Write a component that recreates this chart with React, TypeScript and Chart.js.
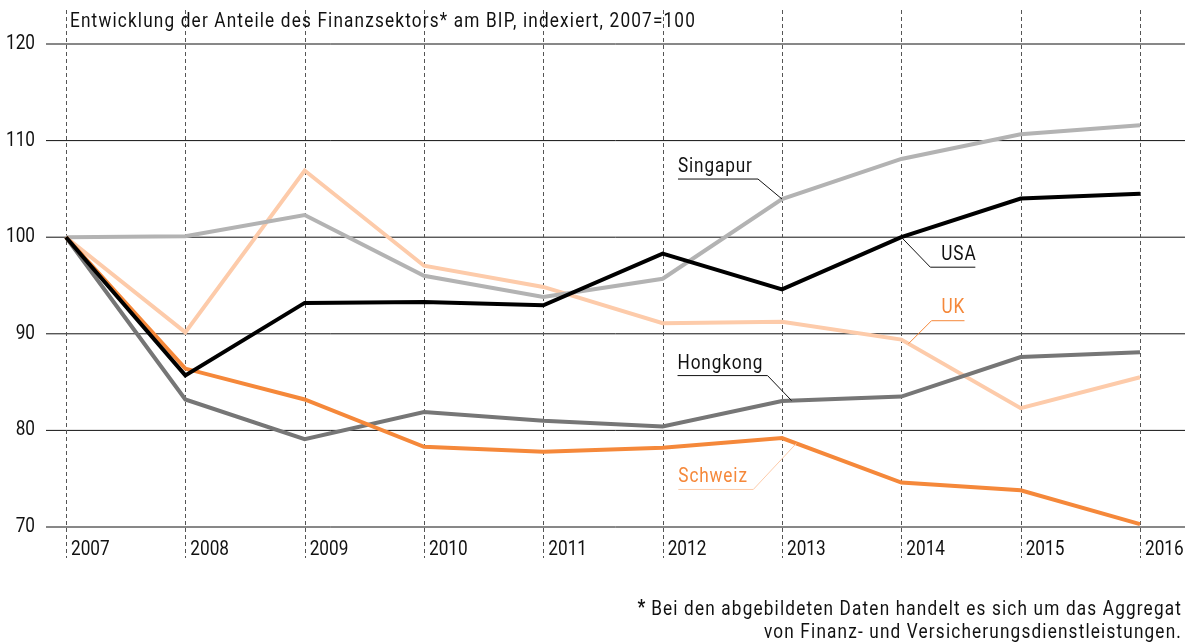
import React, { useEffect, useRef } from "react";
import { Chart, registerables } from "chart.js";

Chart.register(...registerables);

const years = [2007, 2008, 2009, 2010, 2011, 2012, 2013, 2014, 2015, 2016];
const singapur = [100, 100.1, 102.3, 96.0, 93.8, 95.7, 103.95, 108.1, 110.65, 111.6];
const usa = [100, 85.7, 93.2, 93.3, 92.95, 98.3, 94.6, 100, 104.0, 104.5];
const uk = [100, 90.15, 106.9, 97.05, 94.85, 91.1, 91.25, 89.4, 82.3, 85.5];
const hongkong = [100, 83.2, 79.1, 81.9, 81.0, 80.4, 83.05, 83.5, 87.6, 88.1];
const schweiz = [100, 86.4, 83.2, 78.3, 77.8, 78.2, 79.2, 74.6, 73.8, 70.3];
const yTicks = [70, 80, 90, 100, 110, 120];

const title = "Entwicklung der Anteile des Finanzsektors* am BIP, indexiert, 2007=100";
const footnote1 = "Bei den abgebildeten Daten handelt es sich um das Aggregat";
const footnote2 = "von Finanz- und Versicherungsdienstleistungen.";

const FONT = "Roboto, 'DejaVu Sans Condensed', sans-serif";
const SX = 0.86;
const C_SING = "#b3b3b3";
const C_USA = "#000000";
const C_UK = "#fdcbaa";
const C_HK = "#767676";
const C_CH = "#f5883a";

function interp(series: number[], yr: number) {
  const i = Math.min(Math.floor(yr - years[0]), years.length - 2);
  const f = yr - years[i];
  return series[i] + (series[i + 1] - series[i]) * f;
}

// draw horizontally condensed text
function txt(ctx: any, s: string, x: number, y: number, align: string, font: string, color: string, base = "middle", ls = 0) {
  ctx.save();
  ctx.font = font;
  ctx.fillStyle = color;
  ctx.textBaseline = base;
  ctx.textAlign = "left";
  if ("letterSpacing" in ctx) ctx.letterSpacing = `${ls}px`;
  const w = ctx.measureText(s).width * SX;
  let left = x;
  if (align === "right") left = x - w;
  else if (align === "center") left = x - w / 2;
  ctx.translate(left, y);
  ctx.scale(SX, 1);
  ctx.fillText(s, 0, 0);
  ctx.restore();
  return w;
}

const F = `20px ${FONT}`;
const FB = `bold 20px ${FONT}`;
const LS = 1.35;

const decor = {
  id: "decor",
  beforeDatasetsDraw(chart: any) {
    const ctx = chart.ctx;
    const xs = chart.scales.x;
    const ys = chart.scales.y;
    ctx.save();
    ctx.strokeStyle = "#111";
    ctx.lineWidth = 1;
    yTicks.forEach((v) => {
      const y = ys.getPixelForValue(v);
      ctx.beginPath();
      ctx.moveTo(46, y);
      ctx.lineTo(1185, y);
      ctx.stroke();
      txt(ctx, String(v), 35, y, "right", F, "#111");
    });
    ctx.strokeStyle = "#555";
    ctx.setLineDash([4, 3]);
    years.forEach((yr) => {
      const x = Math.round(xs.getPixelForValue(yr)) + 0.5;
      ctx.beginPath();
      ctx.moveTo(x, 10);
      ctx.lineTo(x, 558);
      ctx.stroke();
    });
    ctx.setLineDash([]);
    years.forEach((yr) => {
      const x = xs.getPixelForValue(yr);
      txt(ctx, String(yr), x + 5, 550, "left", F, "#111");
    });
    txt(ctx, title, 70, 22, "left", F, "#111", "middle", LS);
    ctx.restore();
  },
  afterDatasetsDraw(chart: any) {
    const ctx = chart.ctx;
    const xs = chart.scales.x;
    const ys = chart.scales.y;
    const anns = [
      { text: "Singapur", series: singapur, yr: 2013, elbow: [-24, -20], under: -104, textX: -104, textY: -27, textColor: "#111", lineColor: "#111" },
      { text: "USA", series: usa, yr: 2014, elbow: [29, 30], under: 74, textX: 40, textY: 23, textColor: "#111", lineColor: "#111" },
      { text: "UK", series: uk, yr: 2014.06, elbow: [23, -23], under: 56, textX: 33, textY: -31, textColor: C_CH, lineColor: C_CH },
      { text: "Hongkong", series: hongkong, yr: 2013.08, elbow: [-24, -25], under: -114, textX: -114, textY: -32, textColor: "#111", lineColor: "#111" },
      { text: "Schweiz", series: schweiz, yr: 2013.12, elbow: [-43, 46], under: -118, textX: -118, textY: 39, textColor: C_CH, lineColor: C_UK },
    ];
    ctx.save();
    anns.forEach((a) => {
      const ax = xs.getPixelForValue(a.yr);
      const ay = ys.getPixelForValue(interp(a.series, a.yr));
      const ex = ax + a.elbow[0];
      const ey = ay + a.elbow[1];
      ctx.strokeStyle = a.lineColor;
      ctx.lineWidth = 1;
      ctx.beginPath();
      ctx.moveTo(ax, ay);
      ctx.lineTo(ex, ey);
      ctx.lineTo(ax + a.under, ey);
      ctx.stroke();
      txt(ctx, a.text, ax + a.textX, ay + a.textY, "left", F, a.textColor, "alphabetic", 1.0);
    });
    const w = txt(ctx, footnote1, 1182, 610, "right", F, "#111", "middle", LS);
    txt(ctx, "*", 1182 - w - 6, 609, "right", FB, "#111");
    txt(ctx, footnote2, 1182, 633, "right", F, "#111", "middle", LS);
    ctx.restore();
  },
};

export default function App() {
  const ref = useRef<HTMLCanvasElement>(null);
  useEffect(() => {
    const mk = (label: string, data: number[], color: string) => ({
      label,
      data: data.map((v, i) => ({ x: years[i], y: v })),
      borderColor: color,
      backgroundColor: color,
      borderWidth: 4,
      pointRadius: 0,
      tension: 0,
      fill: false,
    });
    const chart = new Chart(ref.current!, {
      type: "line",
      data: {
        datasets: [
          mk("USA", usa, C_USA),
          mk("Schweiz", schweiz, C_CH),
          mk("Hongkong", hongkong, C_HK),
          mk("Singapur", singapur, C_SING),
          mk("UK", uk, C_UK),
        ],
      },
      options: {
        animation: false,
        responsive: false,
        devicePixelRatio: 1,
        layout: { padding: { left: 46, right: 0, top: 44, bottom: 115 } },
        plugins: { legend: { display: false }, tooltip: { enabled: false } },
        scales: {
          x: { type: "linear", min: 2006.8324, max: 2016.3771, display: false },
          y: { min: 70, max: 120, display: false },
        },
      },
      plugins: [decor],
    });
    return () => chart.destroy();
  }, []);
  return (
    <div style={{ position: "fixed", left: 0, top: 0, width: 1185, height: 642, background: "#fff" }}>
      <canvas ref={ref} width={1185} height={642} />
    </div>
  );
}
